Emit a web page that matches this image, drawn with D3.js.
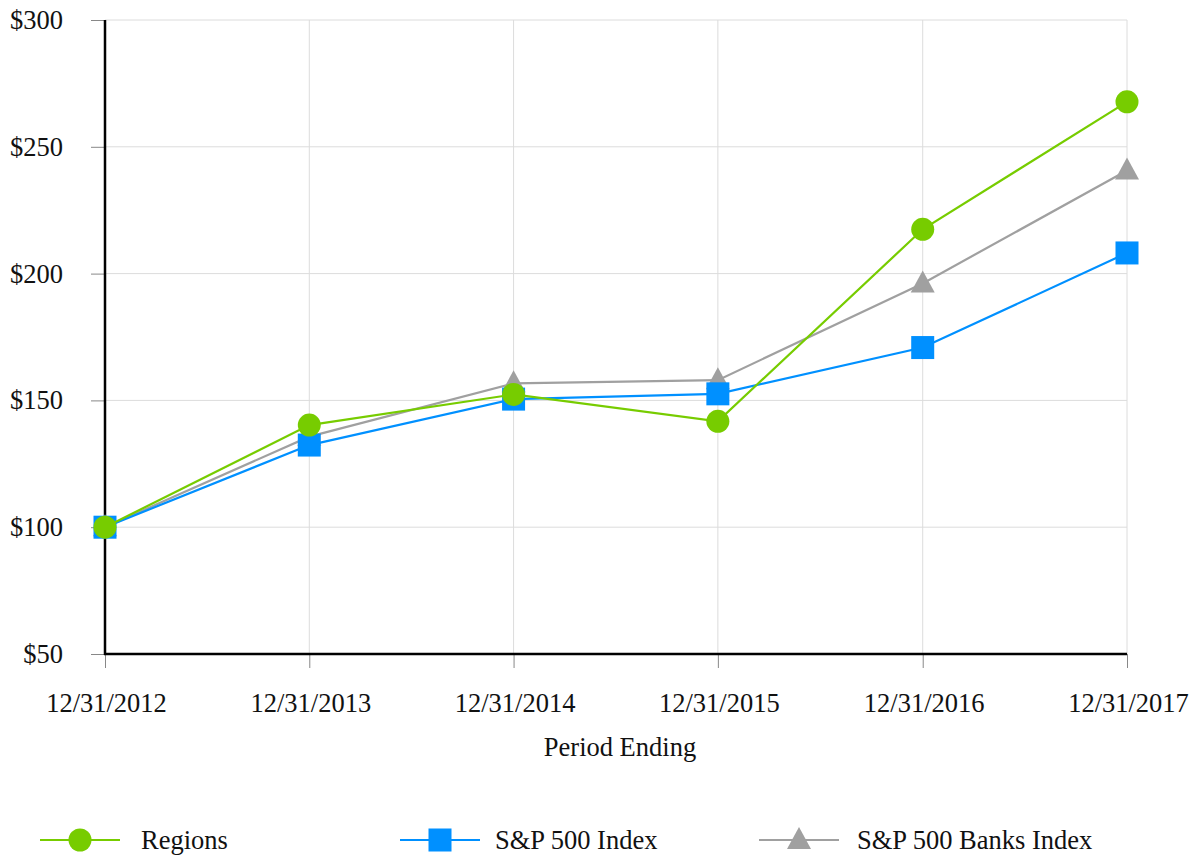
<!DOCTYPE html>
<html><head><meta charset="utf-8">
<script src="https://cdn.jsdelivr.net/npm/d3@7"></script>
<style>body{margin:0;background:#fff}svg{display:block}text{font-family:"Liberation Serif","Times New Roman",serif;fill:#111}</style>
</head><body><svg id="c" width="1199" height="856"></svg>
<script>
const dates = ["12/31/2012","12/31/2013","12/31/2014","12/31/2015","12/31/2016","12/31/2017"];
const regions = [100, 140.27, 152.34, 141.74, 217.46, 267.74];
const sp500 = [100, 132.39, 150.51, 152.59, 170.84, 208.14];
const banks = [100, 135.71, 156.72, 157.99, 196.13, 240.64];
const yTicks = [50, 100, 150, 200, 250, 300];
const seriesNames = ["Regions", "S&P 500 Index", "S&P 500 Banks Index"];
const colors = ["#77CC00", "#0090FF", "#A0A0A0"];
const shapes = ["circle", "square", "triangle"];

const FS = 26.5;
const parse = d3.timeParse("%m/%d/%Y");
const svg = d3.select("#c");
const L = 105, R = 1127, T = 20, B = 654;
const x = d3.scaleTime().domain([parse(dates[0]), parse(dates[dates.length-1])]).range([L, R]);
const y = d3.scaleLinear().domain([50, 300]).range([B, T]);

// gridlines
svg.append("g").selectAll("line").data(dates.slice(1)).join("line")
  .attr("x1", d => x(parse(d))).attr("x2", d => x(parse(d)))
  .attr("y1", T).attr("y2", B).attr("stroke", "#dcdcdc").attr("stroke-width", 1);
svg.append("g").selectAll("line").data(yTicks.slice(1)).join("line")
  .attr("x1", L).attr("x2", R).attr("y1", d => y(d)).attr("y2", d => y(d))
  .attr("stroke", "#dcdcdc").attr("stroke-width", 1);

// axes
const yAxis = svg.append("g").attr("transform", `translate(${L},0)`)
  .call(d3.axisLeft(y).tickValues(yTicks).tickFormat(d => "$" + d).tickSize(14).tickPadding(28));
yAxis.select(".domain").remove();
yAxis.selectAll("line").attr("stroke", "#888");
yAxis.selectAll("text").attr("font-size", FS).attr("fill", "#111").attr("font-family", "Liberation Serif");

const xAxis = svg.append("g").attr("transform", `translate(0,${B})`)
  .call(d3.axisBottom(x).tickValues(dates.map(parse)).tickFormat(d3.timeFormat("%m/%d/%Y")).tickSize(14).tickPadding(25));
xAxis.select(".domain").remove();
xAxis.selectAll("line").attr("stroke", "#888");
xAxis.selectAll("text").attr("font-size", FS).attr("fill", "#111").attr("font-family", "Liberation Serif").attr("dx", 1);

svg.append("line").attr("x1", L).attr("x2", L).attr("y1", T).attr("y2", B + 1).attr("stroke", "#000").attr("stroke-width", 2.5);
svg.append("line").attr("x1", L - 1).attr("x2", R).attr("y1", B).attr("y2", B).attr("stroke", "#000").attr("stroke-width", 2.5);

svg.append("text").attr("x", (L + R) / 2 + 4).attr("y", 756).attr("text-anchor", "middle")
  .attr("font-size", FS).text("Period Ending");

function marker(g, shape, cx, cy, color) {
  if (shape === "circle") g.append("circle").attr("cx", cx).attr("cy", cy).attr("r", 11.5).attr("fill", color);
  else if (shape === "square") g.append("rect").attr("x", cx - 11.5).attr("y", cy - 11.5).attr("width", 23).attr("height", 23).attr("fill", color);
  else g.append("path").attr("d", `M${cx},${cy - 13}L${cx + 12},${cy + 9}L${cx - 12},${cy + 9}Z`).attr("fill", color);
}

const allSeries = [regions, sp500, banks];
const line = d3.line().x((d, i) => x(parse(dates[i]))).y(d => y(d));
// draw order: banks, sp500, regions
[2, 1, 0].forEach(k => {
  const g = svg.append("g");
  g.append("path").datum(allSeries[k]).attr("d", line).attr("fill", "none")
    .attr("stroke", colors[k]).attr("stroke-width", 2.2);
  allSeries[k].forEach((v, i) => marker(g, shapes[k], x(parse(dates[i])), y(v), colors[k]));
});

// legend
const legX = [40, 400, 759];
const legText = [141, 495, 857];
const ly = 840;
seriesNames.forEach((n, k) => {
  const g = svg.append("g");
  g.append("line").attr("x1", legX[k]).attr("x2", legX[k] + 80).attr("y1", ly).attr("y2", ly)
    .attr("stroke", colors[k]).attr("stroke-width", 2.2);
  marker(g, shapes[k], legX[k] + 40, ly, colors[k]);
  g.append("text").attr("x", legText[k]).attr("y", ly + 9).attr("font-size", FS).text(n);
});
</script></body></html>
